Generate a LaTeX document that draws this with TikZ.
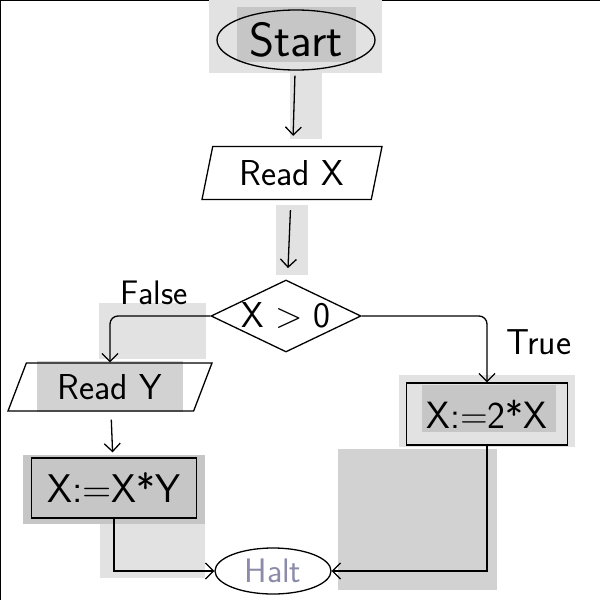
\documentclass[tikz,border=0pt]{standalone}
\usepackage{tikz}
\usetikzlibrary{shapes.geometric,arrows.meta,positioning}

\definecolor{shadeA}{HTML}{E2E2E2}
\definecolor{shadeB}{HTML}{D2D2D2}
\definecolor{shadeC}{HTML}{C6C6C6}
\definecolor{haltink}{HTML}{8C8CAA}

\begin{document}
\begin{tikzpicture}[
    x=1pt, y=-1pt,
    font=\sffamily,
    terminal/.style={ellipse, draw, line width=1.3pt, inner sep=0pt},
    io/.style={trapezium, draw, line width=1.3pt, inner sep=0pt, trapezium stretches body},
    decision/.style={diamond, draw, line width=1.3pt, inner sep=0pt, aspect=2},
    box/.style={rectangle, draw, line width=1.3pt, inner sep=0pt},
    arrow/.style={->, >={Straight Barb[length=8pt,width=16pt]}, line width=1.3pt}
]
    \useasboundingbox (0,0) rectangle (600,600);
    \draw[line width=2pt] (0,600) -- (0,0) -- (600,0);

    % grey marks behind the drawing
    \fill[shadeA] (209,0) rectangle (382,73);
    \fill[shadeC] (237,7) rectangle (356,62);
    \fill[shadeA] (290,73) rectangle (322,139);
    \fill[shadeA] (276,205) rectangle (308,275);
    \fill[shadeA] (99,303) rectangle (206,359);
    \fill[shadeB] (37,361) rectangle (183,412);
    \fill[shadeC] (23,455) rectangle (205,524);
    \fill[shadeA] (100,524) rectangle (205,578);
    \fill[shadeA] (399,375) rectangle (575,447);
    \fill[shadeC] (422,385) rectangle (556,432);
    \fill[shadeB] (338,449) rectangle (497,590);

    \node[terminal, minimum width=158pt, minimum height=60pt] (start) at (296,40) {\fontsize{48}{48}\selectfont Start};
    \node[io, trapezium left angle=67, trapezium right angle=113, minimum width=180pt, minimum height=53pt] (readx) at (292,173) {\fontsize{36}{36}\selectfont Read X};
    \node[decision, minimum width=150pt, minimum height=72pt] (cond) at (286,316) {\fontsize{36}{36}\selectfont X > 0};
    \node[io, trapezium left angle=54, trapezium right angle=126, minimum width=204pt, minimum height=48pt] (ready) at (110,387) {\fontsize{36}{36}\selectfont Read Y};
    \node[box, minimum width=165pt, minimum height=60pt] (mult) at (114,488) {\fontsize{40}{40}\selectfont X:=X*Y};
    \node[box, minimum width=161pt, minimum height=62pt] (double) at (487,414) {\fontsize{38}{38}\selectfont X:=2*X};
    \node[terminal, minimum width=116pt, minimum height=46pt, text=haltink] (halt) at (273,571) {\fontsize{34}{34}\selectfont Halt};

    \draw[arrow, shorten <=5pt, shorten >=10pt] (start) -- (readx);
    \draw[arrow, shorten <=10pt, shorten >=12pt] (readx) -- (cond);
    \draw[arrow, rounded corners=8pt] (cond.east) -| node[pos=0.7, right=16pt] {\fontsize{36}{36}\selectfont True} (double.north);
    \draw[arrow, rounded corners=8pt] (cond.west) -| node[pos=0.28, above=7pt] {\fontsize{34}{34}\selectfont False} (ready.north);
    \draw[arrow, shorten <=8pt, shorten >=5pt] (ready) -- (mult);
    \draw[arrow] (mult.south) |- (halt.west);
    \draw[arrow] (double.south) |- (halt.east);
\end{tikzpicture}
\end{document}
